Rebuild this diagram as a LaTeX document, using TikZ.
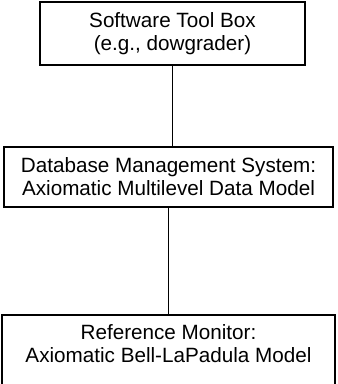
\documentclass[tikz,border=0pt]{standalone}
\usepackage{fontspec}
\setmainfont{Liberation Sans}
\usetikzlibrary{positioning}

\begin{document}
\begin{tikzpicture}[x=0.75pt,y=-0.75pt,
    box/.style={draw,line width=1.2pt,align=center,inner sep=0pt,
        font=\fontsize{15.5}{17.25}\selectfont},
    link/.style={line width=1.2pt}]

\useasboundingbox (0,0) rectangle (337,384);

% Boxes
\node[box,minimum width=198.75pt,minimum height=47.25pt] (tool) at (172.5,33.5)
    {Software Tool Box\\(e.g., dowgrader)};
\node[box,minimum width=246.75pt,minimum height=45pt] (dbms) at (168.5,177)
    {Database Management System:\\Axiomatic Multilevel Data Model};
% bottom box runs off the page
\node[box,minimum width=249.75pt,anchor=north,inner ysep=7pt,text depth=40pt] (monitor) at (168.5,314)
    {Reference Monitor:\\Axiomatic Bell-LaPadula Model};

% Links
\draw[link] (tool.south) -- (tool.south |- dbms.north);
\draw[link] (dbms.south) -- (dbms.south |- monitor.north);

\end{tikzpicture}
\end{document}
